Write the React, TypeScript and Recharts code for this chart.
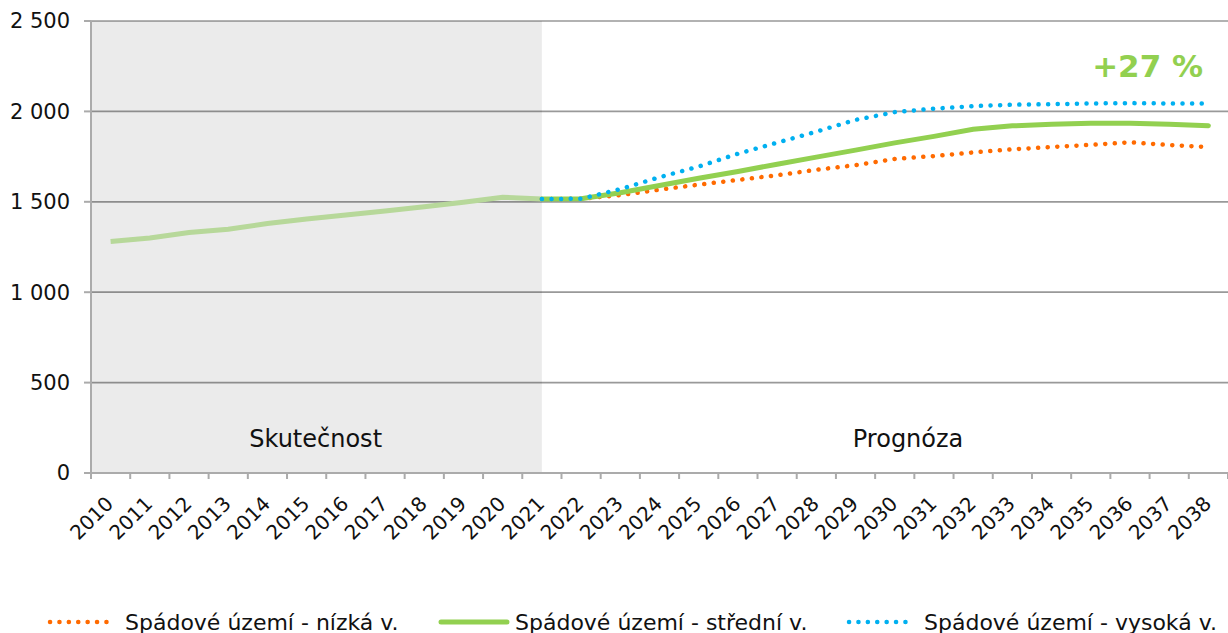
import {
  LineChart,
  Line,
  XAxis,
  YAxis,
  CartesianGrid,
  Legend,
  ReferenceArea,
  ReferenceDot,
} from 'recharts';

const years = [
  2010, 2011, 2012, 2013, 2014, 2015, 2016, 2017, 2018, 2019, 2020, 2021, 2022, 2023, 2024,
  2025, 2026, 2027, 2028, 2029, 2030, 2031, 2032, 2033, 2034, 2035, 2036, 2037, 2038,
];

// 2010–2021
const actual = [1280, 1300, 1330, 1348, 1380, 1405, 1427, 1449, 1473, 1497, 1525, 1515];

// 2021–2038
const lowVariant = [
  1515, 1517, 1537, 1567, 1595, 1621, 1647, 1677, 1703, 1737, 1753, 1773, 1790, 1803, 1815, 1829,
  1814, 1803,
];
const midVariant = [
  1515, 1517, 1550, 1590, 1630, 1668, 1708, 1747, 1786, 1826, 1862, 1901, 1920, 1929, 1934, 1935,
  1929, 1921,
];
const highVariant = [
  1515, 1517, 1570, 1636, 1695, 1766, 1827, 1888, 1953, 1996, 2015, 2029, 2037, 2040, 2044, 2046,
  2044, 2044,
];

const yTicks = [0, 500, 1000, 1500, 2000, 2500];

const seriesNames = {
  low: 'Spádové území - nízká v.',
  mid: 'Spádové území - střední v.',
  high: 'Spádové území - vysoká v.',
};

const forecastStart = years.indexOf(2021);

const data = years.map((year, i) => ({
  year,
  actual: i < actual.length ? actual[i] : null,
  low: i >= forecastStart ? lowVariant[i - forecastStart] : null,
  mid: i >= forecastStart ? midVariant[i - forecastStart] : null,
  high: i >= forecastStart ? highVariant[i - forecastStart] : null,
}));

// category boundaries (tick marks) + year labels
const boundaries = [...years.map((y) => y - 0.5), years[years.length - 1] + 0.5];
const xTicks = [...boundaries, ...years].sort((a, b) => a - b);

const FONT = '"DejaVu Sans", Verdana, sans-serif';
const AXIS = '#ababab';

const fmt = (v: number) => String(v).replace(/\B(?=(\d{3})+(?!\d))/g, ' ');

function YearTick({ x, y, payload }: any) {
  const v = payload.value;
  if (!Number.isInteger(v)) {
    return <line x1={x} x2={x} y1={y} y2={y + 6} stroke={AXIS} strokeWidth={2} />;
  }
  const tx = x + 4;
  const ty = y + 32;
  return (
    <text
      x={tx}
      y={ty}
      transform={`rotate(-45 ${tx} ${ty})`}
      textAnchor="end"
      fontSize={20}
      fontFamily={FONT}
      fill="#111"
    >
      {v}
    </text>
  );
}

const legendLayout = [
  { left: 47, sample: 65, gap: 13 },
  { left: 438, sample: 72, gap: 5 },
  { left: 846, sample: 64, gap: 14 },
];

function ChartLegend({ payload }: any) {
  const items = (payload || []).filter((p: any) => p.type !== 'none');
  return (
    <div style={{ position: 'relative', height: 80, fontFamily: FONT, fontSize: 22 }}>
      {items.map((entry: any, i: number) => {
        const l = legendLayout[i] || legendLayout[0];
        const dotted = !!entry.payload?.strokeDasharray;
        return (
          <div
            key={entry.value}
            style={{
              position: 'absolute',
              left: l.left,
              top: 56,
              height: 26,
              display: 'flex',
              alignItems: 'center',
              whiteSpace: 'nowrap',
              color: '#111',
            }}
          >
            <svg width={l.sample} height={10} style={{ marginRight: l.gap }}>
              <line
                x1={3}
                x2={l.sample - 3}
                y1={5}
                y2={5}
                stroke={entry.color}
                strokeWidth={dotted ? 4.5 : 5}
                strokeDasharray={dotted ? '0.1 9.3' : undefined}
                strokeLinecap="round"
              />
            </svg>
            <span>{entry.value}</span>
          </div>
        );
      })}
    </div>
  );
}

export default function App() {
  return (
    <div style={{ position: 'absolute', left: 0, top: 0, width: 1228, height: 633, background: '#fff' }}>
      <LineChart
        width={1228}
        height={633}
        data={data}
        margin={{ top: 21, right: 0, left: 0, bottom: 0 }}
      >
        <CartesianGrid vertical={false} stroke="#999" strokeWidth={1.7} />
        <ReferenceArea
          x1={2009.5}
          x2={2021}
          y1={0}
          y2={2500}
          fill="#000"
          fillOpacity={0.078}
          stroke="none"
        />
        <XAxis
          dataKey="year"
          type="number"
          domain={[2009.5, 2038.5]}
          ticks={xTicks}
          interval={0}
          tick={<YearTick />}
          tickLine={false}
          tickSize={0}
          tickMargin={0}
          axisLine={{ stroke: AXIS, strokeWidth: 2 }}
          height={80}
        />
        <YAxis
          domain={[0, 2500]}
          ticks={yTicks}
          width={91}
          tickFormatter={fmt}
          tickSize={7}
          tickMargin={14}
          axisLine={{ stroke: AXIS, strokeWidth: 2 }}
          tickLine={{ stroke: AXIS, strokeWidth: 2 }}
          tick={{ fill: '#111', fontSize: 21, fontFamily: FONT }}
        />
        <Legend verticalAlign="bottom" height={80} content={<ChartLegend />} />
        <Line
          dataKey="actual"
          stroke="#B7D89A"
          strokeWidth={5}
          dot={false}
          legendType="none"
          isAnimationActive={false}
        />
        <Line
          dataKey="low"
          name={seriesNames.low}
          stroke="#FF6A00"
          strokeWidth={4.5}
          strokeDasharray="0.1 9.5"
          strokeLinecap="round"
          dot={false}
          isAnimationActive={false}
        />
        <Line
          dataKey="mid"
          name={seriesNames.mid}
          stroke="#92D050"
          strokeWidth={5}
          strokeLinecap="round"
          dot={false}
          isAnimationActive={false}
        />
        <Line
          dataKey="high"
          name={seriesNames.high}
          stroke="#00B0F0"
          strokeWidth={4.5}
          strokeDasharray="0.1 9.5"
          strokeLinecap="round"
          dot={false}
          isAnimationActive={false}
        />
        <ReferenceDot
          x={2015.23}
          y={190}
          r={0}
          label={{ value: 'Skutečnost', position: 'center', fill: '#111', fontSize: 24, fontFamily: FONT }}
        />
        <ReferenceDot
          x={2030.34}
          y={190}
          r={0}
          label={{ value: 'Prognóza', position: 'center', fill: '#111', fontSize: 24, fontFamily: FONT }}
        />
        <ReferenceDot
          x={2036.45}
          y={2250}
          r={0}
          label={{
            value: '+27 %',
            position: 'center',
            fill: '#92D050',
            fontSize: 31,
            fontWeight: 'bold',
            fontFamily: FONT,
          }}
        />
      </LineChart>
    </div>
  );
}
